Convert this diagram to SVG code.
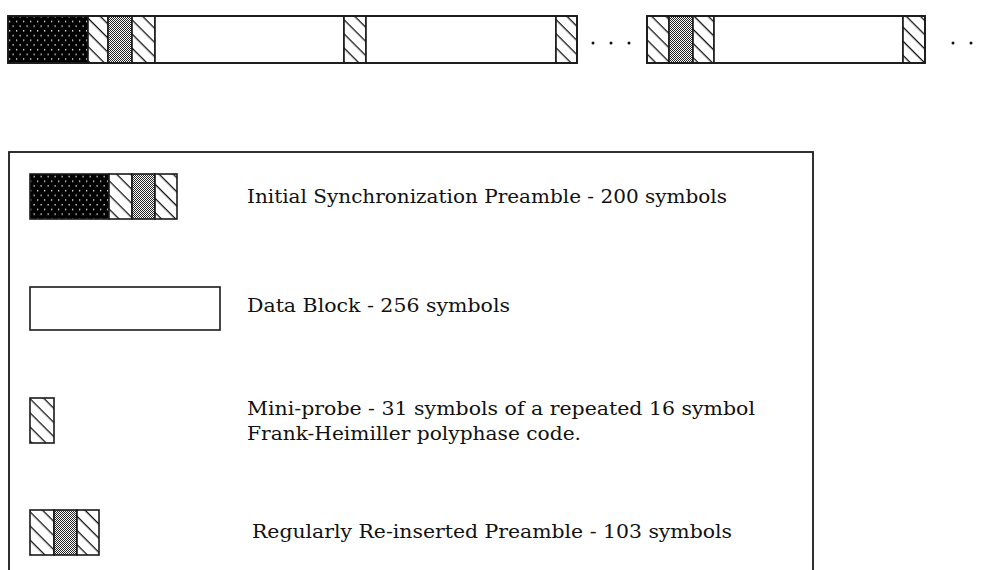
<svg xmlns="http://www.w3.org/2000/svg" width="984" height="570" viewBox="0 0 984 570">
<style>
.b{stroke:#1a1a1a;stroke-width:1.6;}
.dark{fill:url(#pDark);}
.hatch{fill:url(#pHatch);}
.gray{fill:url(#pGray);}
.data{fill:#fff;}
.ol{fill:none;stroke:#1a1a1a;stroke-width:1.8;}
.t{font-family:"DejaVu Serif","Liberation Serif",serif;font-size:19px;fill:#111;}
.dot{fill:#111;}
</style>
<defs>
<pattern id="pDark" patternUnits="userSpaceOnUse" width="7" height="9.4">
<rect width="7" height="9.4" fill="#000"/>
<rect x="2" y="2" width="1.3" height="1.3" fill="#fff"/>
<rect x="5.5" y="6.7" width="1.3" height="1.3" fill="#fff"/>
</pattern>
<pattern id="pHatch" patternUnits="userSpaceOnUse" width="10" height="10" patternTransform="rotate(45)">
<rect width="10" height="10" fill="#fff"/>
<rect width="10" height="1.3" fill="#111"/>
</pattern>
<pattern id="pGray" patternUnits="userSpaceOnUse" width="2" height="2">
<rect width="2" height="2" fill="#fff"/>
<rect width="1" height="1" fill="#222"/>
<rect x="1" y="1" width="1" height="1" fill="#222"/>
</pattern>
</defs>
<rect width="984" height="570" fill="#fff"/>

<g id="frame-row">
<g id="seg1">
<rect class="dark b" x="8" y="16" width="80" height="47"/>
<rect class="hatch b" x="88" y="16" width="20" height="47"/>
<rect class="gray b" x="108" y="16" width="24" height="47"/>
<rect class="hatch b" x="132" y="16" width="23" height="47"/>
<rect class="data b" x="155" y="16" width="189" height="47"/>
<rect class="hatch b" x="344" y="16" width="22" height="47"/>
<rect class="data b" x="366" y="16" width="190" height="47"/>
<rect class="hatch b" x="556" y="16" width="21" height="47"/>
<rect class="ol" x="8" y="16" width="569" height="47"/>
</g>
<g id="ellipsis1">
<circle class="dot" cx="593" cy="43" r="1.5"/>
<circle class="dot" cx="611" cy="43" r="1.5"/>
<circle class="dot" cx="629" cy="43" r="1.5"/>
</g>
<g id="seg2">
<rect class="hatch b" x="647" y="16" width="22" height="47"/>
<rect class="gray b" x="669" y="16" width="24" height="47"/>
<rect class="hatch b" x="693" y="16" width="21" height="47"/>
<rect class="data b" x="714" y="16" width="189" height="47"/>
<rect class="hatch b" x="903" y="16" width="22" height="47"/>
<rect class="ol" x="647" y="16" width="278" height="47"/>
</g>
<g id="ellipsis2">
<circle class="dot" cx="953" cy="43" r="1.5"/>
<circle class="dot" cx="971" cy="43" r="1.5"/>
</g>
</g>

<g id="legend">
<rect class="ol" x="9" y="152" width="804" height="440"/>
<g id="legend-initial">
<rect class="dark b" x="30" y="174" width="79" height="45"/>
<rect class="hatch b" x="109" y="174" width="23" height="45"/>
<rect class="gray b" x="132" y="174" width="23" height="45"/>
<rect class="hatch b" x="155" y="174" width="22" height="45"/>
<text class="t" x="247" y="203" textLength="480" lengthAdjust="spacingAndGlyphs">Initial Synchronization Preamble - 200 symbols</text>
</g>
<g id="legend-data">
<rect class="data b" x="30" y="287" width="190" height="43"/>
<text class="t" x="247" y="312" textLength="263" lengthAdjust="spacingAndGlyphs">Data Block - 256 symbols</text>
</g>
<g id="legend-miniprobe">
<rect class="hatch b" x="30" y="398" width="24" height="45"/>
<text class="t" x="247" y="415" textLength="508" lengthAdjust="spacingAndGlyphs">Mini-probe - 31 symbols of a repeated 16 symbol</text>
<text class="t" x="247" y="440" textLength="334" lengthAdjust="spacingAndGlyphs">Frank-Heimiller polyphase code.</text>
</g>
<g id="legend-reinserted">
<rect class="hatch b" x="30" y="510" width="24" height="45"/>
<rect class="gray b" x="54" y="510" width="23" height="45"/>
<rect class="hatch b" x="77" y="510" width="22" height="45"/>
<text class="t" x="252" y="538" textLength="480" lengthAdjust="spacingAndGlyphs">Regularly Re-inserted Preamble - 103 symbols</text>
</g>
</g>
<g id="connectors"/>
</svg>
